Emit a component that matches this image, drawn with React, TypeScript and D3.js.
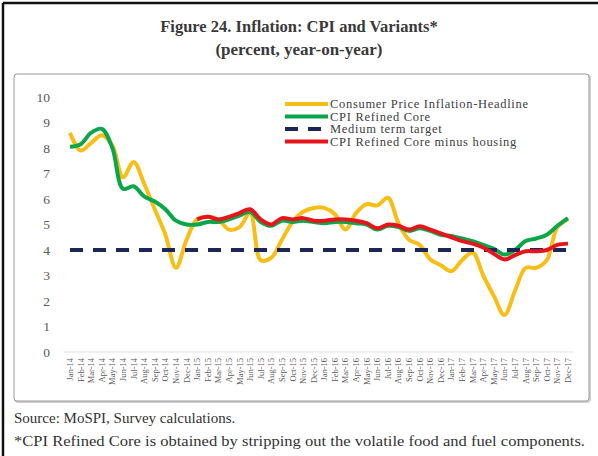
import * as d3 from "d3";

const months = [
  "Jan-14", "Feb-14", "Mar-14", "Apr-14", "May-14", "Jun-14", "Jul-14", "Aug-14", "Sep-14", "Oct-14", "Nov-14", "Dec-14",
  "Jan-15", "Feb-15", "Mar-15", "Apr-15", "May-15", "Jun-15", "Jul-15", "Aug-15", "Sep-15", "Oct-15", "Nov-15", "Dec-15",
  "Jan-16", "Feb-16", "Mar-16", "Apr-16", "May-16", "Jun-16", "Jul-16", "Aug-16", "Sep-16", "Oct-16", "Nov-16", "Dec-16",
  "Jan-17", "Feb-17", "Mar-17", "Apr-17", "May-17", "Jun-17", "Jul-17", "Aug-17", "Sep-17", "Oct-17", "Nov-17", "Dec-17",
];

// Consumer Price Inflation - Headline
const headline = [
  8.6, 7.9, 8.2, 8.5, 8.1, 6.85, 7.45, 6.6, 5.6, 4.6, 3.3, 4.4,
  5.2, 5.3, 5.2, 4.8, 4.9, 5.45, 3.6, 3.7, 4.4, 5.1, 5.5, 5.65,
  5.65, 5.4, 4.8, 5.45, 5.8, 5.75, 6.05, 5.05, 4.4, 4.2, 3.63, 3.4,
  3.17, 3.6, 3.9, 3.0, 2.2, 1.45, 2.4, 3.3, 3.3, 3.6, 4.9, 5.2,
];

// CPI Refined Core
const refinedCore = [
  8.05, 8.15, 8.6, 8.75, 8.0, 6.4, 6.5, 6.1, 5.9, 5.6, 5.15, 5.0,
  5.0, 5.1, 5.1, 5.2, 5.35, 5.5, 5.1, 4.95, 5.15, 5.1, 5.15, 5.1,
  5.05, 5.1, 5.1, 5.05, 5.0, 4.8, 4.95, 4.9, 4.75, 4.85, 4.75, 4.6,
  4.55, 4.45, 4.35, 4.2, 4.05, 3.82, 4.0, 4.35, 4.45, 4.6, 4.95, 5.25,
];

// Medium term target
const target = months.map(() => 4);

// CPI Refined Core minus housing
const coreExHousing: (number | null)[] = [
  null, null, null, null, null, null, null, null, null, null, null, null,
  5.2, 5.3, 5.2, 5.3, 5.45, 5.6, 5.2, 5.0, 5.25, 5.2, 5.25, 5.15,
  5.15, 5.2, 5.2, 5.15, 5.05, 4.85, 5.0, 4.95, 4.8, 4.93, 4.8, 4.65,
  4.5, 4.35, 4.25, 4.1, 3.85, 3.63, 3.8, 3.95, 3.95, 4.0, 4.2, 4.25,
];

const yTicks = [0, 1, 2, 3, 4, 5, 6, 7, 8, 9, 10];

const series = [
  { name: "Consumer Price Inflation-Headline", values: headline, color: "#F7BE16", dash: "" },
  { name: "CPI Refined Core", values: refinedCore, color: "#0BA64A", dash: "" },
  { name: "Medium term target", values: target, color: "#1C2757", dash: "13 10" },
  { name: "CPI Refined Core minus housing", values: coreExHousing, color: "#E8141C", dash: "" },
];

const serif = "'Liberation Serif', 'DejaVu Serif', serif";

export default function App() {
  const width = 598;
  const height = 456;

  const x = d3.scalePoint<string>().domain(months).range([70, 568]);
  const y = d3.scaleLinear().domain([0, 10]).range([352, 97]);

  const line = d3
    .line<number | null>()
    .defined((d) => d != null)
    .x((_, i) => x(months[i]) as number)
    .y((d) => y(d as number))
    .curve(d3.curveCatmullRom.alpha(0.5));

  const straight = d3
    .line<number>()
    .x((_, i) => x(months[i]) as number)
    .y((d) => y(d));

  return (
    <svg
      width={width}
      height={height}
      style={{ position: "absolute", left: 0, top: 0, background: "#fff" }}
      fontFamily={serif}
    >
      {/* outer frame */}
      <line x1={3} y1={3} x2={width} y2={3} stroke="#111" strokeWidth={2.5} />
      <line x1={3} y1={3} x2={3} y2={height} stroke="#111" strokeWidth={2.5} />

      <text x={299} y={32} textAnchor="middle" fontSize={16.5} fontWeight="bold" fill="#3a3a3a">
        Figure 24. Inflation: CPI and Variants*
      </text>
      <text x={299} y={55} textAnchor="middle" fontSize={17} fontWeight="bold" fill="#3a3a3a">
        (percent, year-on-year)
      </text>

      {/* chart box */}
      <rect x={15} y={75} width={575} height={327} rx={3} fill="none" stroke="#d0d0d0" strokeWidth={2} />
      <rect x={14} y={74} width={575} height={327} rx={3} fill="#fff" stroke="#9a9a9a" strokeWidth={1} />

      {/* y axis labels */}
      {yTicks.map((t) => (
        <text key={t} x={50} y={y(t)} dy="0.35em" textAnchor="end" fontSize={13.5} fill="#595959">
          {t}
        </text>
      ))}

      {/* x axis */}
      <line x1={64} x2={574} y1={y(0)} y2={y(0)} stroke="#e3e3e3" strokeWidth={1} />
      {months.map((m) => (
        <text
          key={m}
          transform={`translate(${(x(m) as number) + 3},${y(0) + 6}) rotate(-90)`}
          textAnchor="end"
          fontSize={8.5}
          fill="#595959"
        >
          {m}
        </text>
      ))}

      {/* lines */}
      {series.map((s) =>
        s.dash ? (
          <path
            key={s.name}
            d={straight(s.values as number[]) ?? ""}
            fill="none"
            stroke={s.color}
            strokeWidth={4}
            strokeDasharray={s.dash}
          />
        ) : (
          <path
            key={s.name}
            d={line(s.values) ?? ""}
            fill="none"
            stroke={s.color}
            strokeWidth={4}
            strokeLinejoin="round"
          />
        ),
      )}

      {/* legend */}
      {series.map((s, i) => (
        <g key={s.name} transform={`translate(285,${104 + i * 12.5})`}>
          <line x1={0} x2={43} stroke={s.color} strokeWidth={4} strokeDasharray={s.dash ? "13 10" : undefined} />
          <text x={45} dy="0.35em" fontSize={12.5} letterSpacing={0.7} fill="#404040">
            {s.name}
          </text>
        </g>
      ))}

      <text x={14} y={423} fontSize={15} fill="#333">
        Source: MoSPI, Survey calculations.
      </text>
      <text x={14} y={446} fontSize={15} fill="#333" textLength={571} lengthAdjust="spacingAndGlyphs">
        *CPI Refined Core is obtained by stripping out the volatile food and fuel components.
      </text>
    </svg>
  );
}
